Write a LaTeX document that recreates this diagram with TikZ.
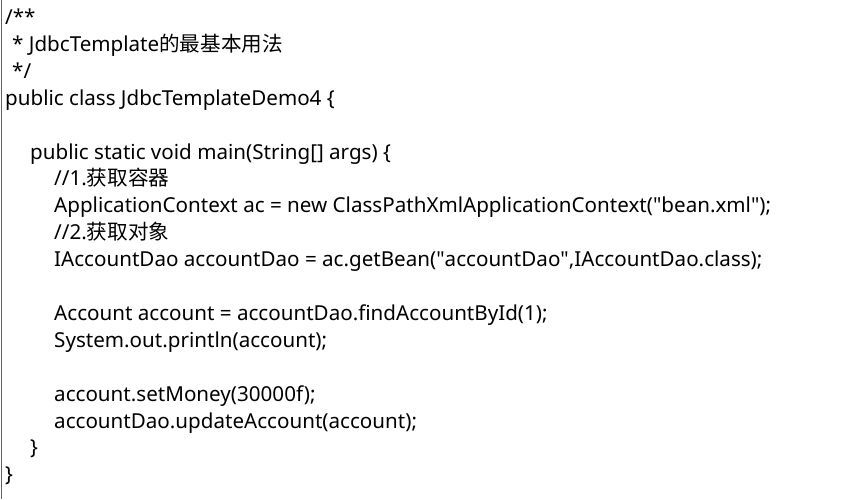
\documentclass[tikz,border=0pt]{standalone}
\usepackage{fontspec}
\setmainfont{Noto Sans}
\newfontfamily\cjk{Noto Sans CJK SC}
\usetikzlibrary{positioning}
\definecolor{edgeblue}{RGB}{40,110,200}
\newcommand{\dq}{\textquotedbl}
\tikzset{
    codeline/.style={anchor=base west, inner sep=0pt, font=\fontsize{20.6pt}{22pt}\selectfont}
}

\begin{document}
\begin{tikzpicture}[x=1pt,y=-1pt]
        \useasboundingbox (0,0) rectangle (845,499);
        \fill[white] (0,0) rectangle (845,499);
        \draw[edgeblue, line width=1.2pt] (1.5,0) -- (1.5,499);

        % comment block
        \node[codeline] (l1) at (5,24.5) {/**};
        \node[codeline] (l2) at (12,51.4) {* JdbcTemplate{\cjk 的最基本用法}};
        \node[codeline] (l3) at (12,78.3) {*/};
        \node[codeline] (l4) at (5,105.2) {public class JdbcTemplateDemo4 \{};

        % main
        \node[codeline] (l6) at (30,159) {public static void main(String[] args) \{};
        \node[codeline] (l7) at (54,185.9) {//1.{\cjk 获取容器}};
        \node[codeline] (l8) at (54,212.8) {ApplicationContext ac = new ClassPathXmlApplicationContext(\dq bean.xml\dq);};
        \node[codeline] (l9) at (54,239.7) {//2.{\cjk 获取对象}};
        \node[codeline] (l10) at (54,266.6) {IAccountDao accountDao = ac.getBean(\dq accountDao\dq,IAccountDao.class);};

        \node[codeline] (l12) at (54,320.4) {Account account = accountDao.findAccountById(1);};
        \node[codeline] (l13) at (54,347.3) {System.out.println(account);};

        \node[codeline] (l15) at (54,401.1) {account.setMoney(30000f);};
        \node[codeline] (l16) at (54,428) {accountDao.updateAccount(account);};
        \node[codeline] (l17) at (30,454.9) {\}};
        \node[codeline] (l18) at (5,481.8) {\}};
\end{tikzpicture}
\end{document}
